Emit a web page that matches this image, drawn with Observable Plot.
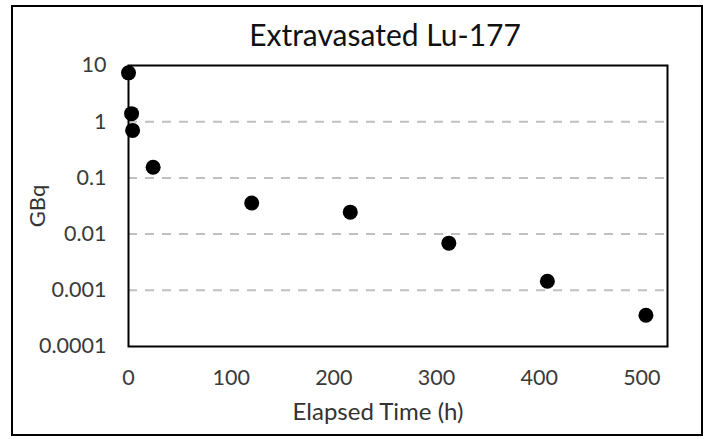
<!DOCTYPE html>
<html>
<head>
<meta charset="utf-8">
<script src="https://cdn.jsdelivr.net/npm/d3@7"></script>
<script src="https://cdn.jsdelivr.net/npm/@observablehq/plot@0.6"></script>
<style>
  html, body { margin: 0; padding: 0; background: #fff; }
  #wrap { position: relative; width: 707px; height: 439px; overflow: hidden; background: #fff; }
  #border { position: absolute; left: 11px; top: 5px; width: 688px; height: 427px; border: 2px solid #000; box-sizing: content-box; pointer-events: none; }
  #title { position: absolute; left: 135px; width: 500px; top: 15px; text-align: center; font-family: Lato, "Open Sans", sans-serif; font-size: 30px; color: #111; line-height: 38px; }
  #chart { position: absolute; left: 0; top: 0; }
  #chart g[aria-label="x-axis label"] text, #chart g[aria-label="y-axis label"] text { font-size: 24px; fill: #333; }
  #chart g[aria-label="y-axis label"] text { font-size: 22px; }
</style>
</head>
<body>
<div id="wrap">
  <div id="chart"></div>
  <div id="border"></div>
  <div id="title">Extravasated Lu-177</div>
</div>
<script>
// Data
const hours = [0, 3, 4, 24, 120, 216, 312, 408, 504];
const gbq = [7.4, 1.39, 0.70, 0.155, 0.0357, 0.0246, 0.0069, 0.00145, 0.00036];
const xTicks = [0, 100, 200, 300, 400, 500];
const yTicks = [0.0001, 0.001, 0.01, 0.1, 1, 10];
const gridValues = [0.001, 0.01, 0.1, 1];

const data = hours.map((h, i) => ({h, v: gbq[i]}));

const chart = Plot.plot({
  width: 707,
  height: 439,
  marginLeft: 128,
  marginRight: 40,
  marginTop: 65,
  marginBottom: 93,
  style: {fontFamily: "Lato, 'Open Sans', sans-serif", fontSize: "21.5px", color: "#3a3a3a", background: "transparent"},
  x: {domain: [0, 525], ticks: xTicks, tickSize: 0, tickPadding: 23, label: "Elapsed Time (h)", labelAnchor: "center", labelOffset: 73, labelArrow: "none"},
  y: {type: "log", domain: [0.0001, 10], ticks: yTicks, tickFormat: d => d.toString(), tickSize: 0, tickPadding: 22, label: "GBq", labelAnchor: "center", labelOffset: 99, labelArrow: "none"},
  marks: [
    Plot.ruleY(gridValues, {stroke: "#c0c0c0", strokeWidth: 2, strokeDasharray: "9,8"}),
    Plot.frame({stroke: "#000", strokeWidth: 2}),
    Plot.dot(data, {x: "h", y: "v", r: 7.5, fill: "#000", stroke: "none"})
  ]
});
d3.select(chart).select('g[aria-label="x-axis label"] text').attr("dx", -20);
document.getElementById("chart").appendChild(chart);
</script>
</body>
</html>
